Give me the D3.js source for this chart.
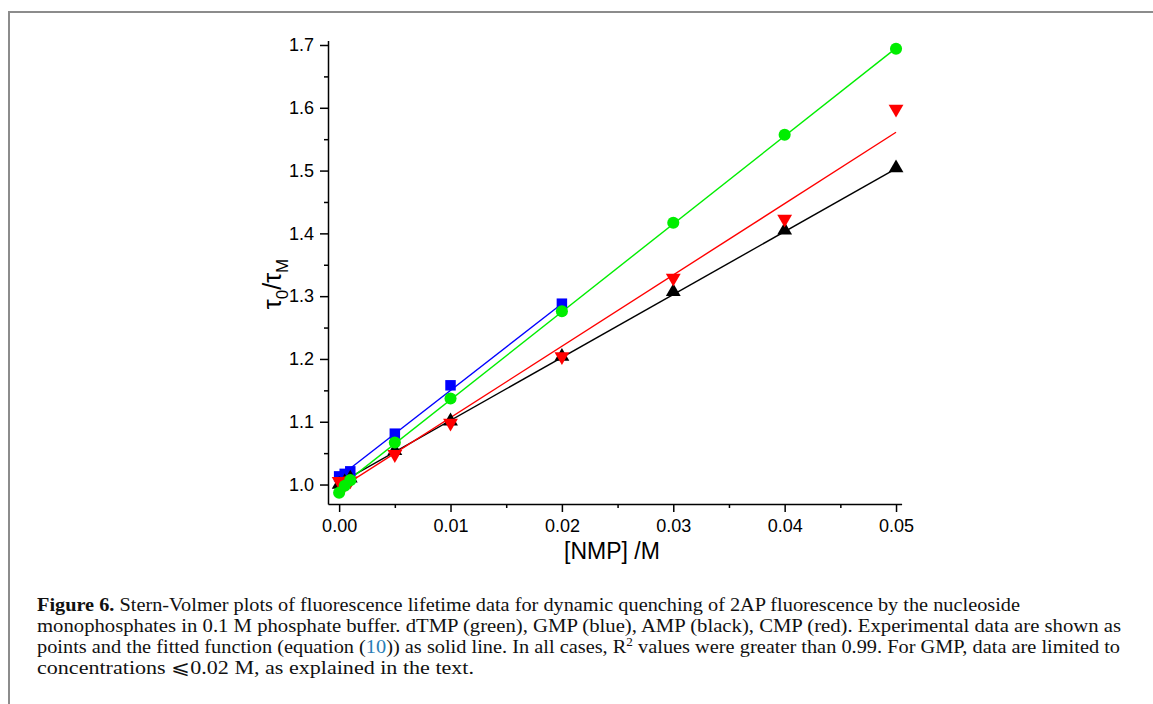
<!DOCTYPE html>
<html>
<head>
<meta charset="utf-8">
<script src="https://cdn.jsdelivr.net/npm/d3@7"></script>
<style>
  html, body { margin: 0; padding: 0; background: #fff; }
  svg { display: block; }
  .axis text { font-family: "Liberation Sans", Arial, sans-serif; font-size: 18px; fill: #000; }
  .axis path, .axis line { stroke: #000; stroke-width: 1.5; }
  .caption { font-family: "Liberation Serif", "Times New Roman", serif; font-size: 18.5px; fill: #111; }
</style>
</head>
<body>
<svg id="chart" width="1153" height="704"></svg>
<script>
// Concentrations (M)
const conc = [0, 0.0005, 0.001, 0.005, 0.01, 0.02, 0.03, 0.04, 0.05];
const concGMP = [0, 0.0005, 0.001, 0.005, 0.01, 0.02];

// tau0 / tauM
const dTMP = [0.987, 0.998, 1.007, 1.067, 1.137, 1.276, 1.417, 1.557, 1.694];
const GMP = [1.013, 1.017, 1.021, 1.081, 1.158, 1.288];
const AMP = [1.0, 1.004, 1.01, 1.054, 1.101, 1.204, 1.307, 1.405, 1.504];
const CMP = [1.005, 1.0, 1.006, 1.048, 1.098, 1.204, 1.329, 1.423, 1.598];

// fitted lines (end points)
const fitX = [0, 0.05];
const fitXGMP = [0, 0.02];
const dTMPFit = [0.995, 1.695];
const GMPFit = [1.012, 1.288];
const AMPFit = [1.002, 1.503];
const CMPFit = [0.993, 1.561];

const xTicks = [0, 0.01, 0.02, 0.03, 0.04, 0.05];
const xMinor = [0.005, 0.015, 0.025, 0.035, 0.045];
const yTicks = [1.0, 1.1, 1.2, 1.3, 1.4, 1.5, 1.6, 1.7];
const yMinor = [1.05, 1.15, 1.25, 1.35, 1.45, 1.55, 1.65];

const series = [
  { name: 'GMP', x: concGMP, y: GMP, fx: fitXGMP, fy: GMPFit, color: '#0000ff', symbol: d3.symbolSquare, size: 110, rot: 0 },
  { name: 'AMP', x: conc, y: AMP, fx: fitX, fy: AMPFit, color: '#000000', symbol: d3.symbolTriangle, size: 95, rot: 0 },
  { name: 'CMP', x: conc, y: CMP, fx: fitX, fy: CMPFit, color: '#ff0000', symbol: d3.symbolTriangle, size: 95, rot: 180 },
  { name: 'dTMP', x: conc, y: dTMP, fx: fitX, fy: dTMPFit, color: '#00ee00', symbol: d3.symbolCircle, size: 115, rot: 0 },
];

const svg = d3.select('#chart');

// page frame
svg.append('path')
  .attr('d', 'M9,704 L9,12 L1153,12')
  .attr('fill', 'none')
  .attr('stroke', '#8c8c8c')
  .attr('stroke-width', 2);

const x = d3.scaleLinear().domain([-0.001, 0.0505]).range([328, 901.6]);
const y = d3.scaleLinear().domain([0.969, 1.707]).range([504, 40.6]);

// minor ticks first, then major axis with labels
svg.append('g')
  .attr('class', 'axis')
  .attr('transform', 'translate(0,504)')
  .call(d3.axisBottom(x).tickValues(xMinor).tickSize(4).tickFormat(''))
  .call((g) => g.select('.domain').remove());

svg.append('g')
  .attr('class', 'axis')
  .attr('transform', 'translate(0,504)')
  .call(d3.axisBottom(x).tickValues(xTicks).tickSize(8).tickSizeOuter(0).tickPadding(7).tickFormat(d3.format('.2f')));

svg.append('g')
  .attr('class', 'axis')
  .attr('transform', 'translate(328,0)')
  .call(d3.axisLeft(y).tickValues(yMinor).tickSize(4).tickFormat(''))
  .call((g) => g.select('.domain').remove());

svg.append('g')
  .attr('class', 'axis')
  .attr('transform', 'translate(328,0)')
  .call(d3.axisLeft(y).tickValues(yTicks).tickSize(8).tickSizeOuter(0).tickPadding(6).tickFormat(d3.format('.1f')));

// axis titles
svg.append('text')
  .attr('x', 612)
  .attr('y', 559)
  .attr('text-anchor', 'middle')
  .style('font-family', '"Liberation Sans", Arial, sans-serif')
  .style('font-size', '23px')
  .text('[NMP] /M');

const yTitle = svg.append('text')
  .attr('transform', 'translate(281,284) rotate(-90)')
  .attr('text-anchor', 'middle')
  .style('font-family', '"Liberation Sans", Arial, sans-serif')
  .style('font-size', '25px');
yTitle.append('tspan').text('τ');
yTitle.append('tspan').attr('dy', 7).style('font-size', '17px').text('0');
yTitle.append('tspan').attr('dy', -7).text('/τ');
yTitle.append('tspan').attr('dy', 7).style('font-size', '17px').text('M');

// fitted lines
const line = d3.line().x((d) => x(d[0])).y((d) => y(d[1]));
svg.append('g')
  .selectAll('path')
  .data(series)
  .join('path')
  .attr('d', (s) => line(d3.zip(s.fx, s.fy)))
  .attr('fill', 'none')
  .attr('stroke', (s) => s.color)
  .attr('stroke-width', 1.4);

// data points
svg.append('g')
  .selectAll('g')
  .data(series)
  .join('g')
  .attr('fill', (s) => s.color)
  .each(function (s) {
    d3.select(this)
      .selectAll('path')
      .data(d3.zip(s.x, s.y))
      .join('path')
      .attr('d', d3.symbol().type(s.symbol).size(s.size))
      .attr('transform', (d) => `translate(${x(d[0])},${y(d[1])}) rotate(${s.rot})`);
  });

// caption
const caption = svg.append('g').attr('class', 'caption');
const l1 = caption.append('text').attr('x', 37).attr('y', 611).attr('textLength', 983).attr('lengthAdjust', 'spacingAndGlyphs');
l1.append('tspan').style('font-weight', 'bold').text('Figure 6.');
l1.append('tspan').text(' Stern-Volmer plots of fluorescence lifetime data for dynamic quenching of 2AP fluorescence by the nucleoside');

caption.append('text').attr('x', 37).attr('y', 632).attr('textLength', 1084).attr('lengthAdjust', 'spacingAndGlyphs')
  .text('monophosphates in 0.1  M phosphate buffer. dTMP (green), GMP (blue), AMP (black), CMP (red). Experimental data are shown as');

const l3 = caption.append('text').attr('x', 37).attr('y', 653).attr('textLength', 1083).attr('lengthAdjust', 'spacingAndGlyphs');
l3.append('tspan').text('points and the fitted function (equation (');
l3.append('tspan').style('fill', '#2a7db5').text('10');
l3.append('tspan').text(')) as solid line. In all cases, R');
l3.append('tspan').attr('dy', -7).style('font-size', '12px').text('2');
l3.append('tspan').attr('dy', 7).text(' values were greater than 0.99. For GMP, data are limited to');

caption.append('text').attr('x', 37).attr('y', 674).attr('textLength', 437).attr('lengthAdjust', 'spacingAndGlyphs')
  .text('concentrations ⩽0.02  M, as explained in the text.');
</script>
</body>
</html>
